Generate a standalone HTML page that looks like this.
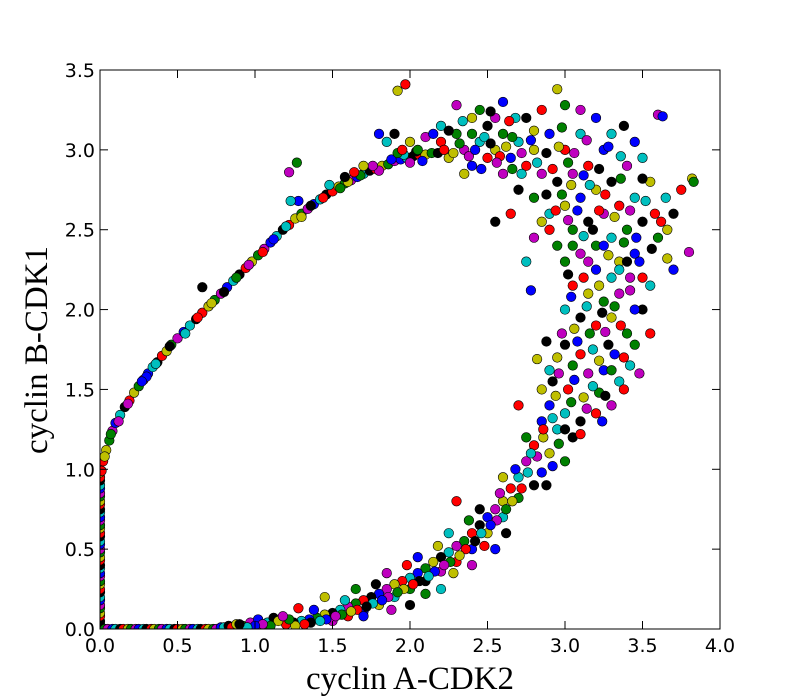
<!DOCTYPE html>
<html><head><meta charset="utf-8"><style>
html,body{margin:0;padding:0;background:#fff;}
svg{display:block;}
</style></head><body>
<svg id="chart" width="800" height="700" xmlns="http://www.w3.org/2000/svg">
<defs><clipPath id="pc"><rect x="100" y="70" width="620" height="559"/></clipPath></defs>
<rect x="0" y="0" width="800" height="700" fill="#fff"/>
<g id="pts" clip-path="url(#pc)"></g>
<rect x="100" y="70" width="620" height="559" fill="none" stroke="#000" stroke-width="1"/>
<g id="ticks"></g>
<text x="410" y="689" text-anchor="middle" font-family="Liberation Serif, serif" font-size="33">cyclin A-CDK2</text>
<text x="0" y="0" transform="translate(47,350) rotate(-90)" text-anchor="middle" font-family="Liberation Serif, serif" font-size="33">cyclin B-CDK1</text>
</svg>
<script>
const xTicks = [0,0.5,1,1.5,2,2.5,3,3.5,4];
const yTicks = [0,0.5,1,1.5,2,2.5,3,3.5];
const xTickLabels = ["0.0","0.5","1.0","1.5","2.0","2.5","3.0","3.5","4.0"];
const yTickLabels = ["0.0","0.5","1.0","1.5","2.0","2.5","3.0","3.5"];
const axisLeftBottom = [[0,0],[0,0.03],[0,0.05],[0,0.08],[0,0.1],[0,0.13],[0,0.15],[0,0.18],[0,0.2],[0,0.23],[0,0.25],[0,0.28],[0,0.3],[0,0.33],[0,0.35],[0,0.38],[0,0.4],[0,0.43],[0,0.45],[0,0.48],[0,0.5],[0,0.53],[0,0.55],[0,0.58],[0,0.6],[0,0.63],[0,0.65],[0,0.68],[0,0.7],[0,0.73],[0,0.75],[0,0.78],[0,0.8],[0,0.83],[0,0.85],[0,0.88],[0,0.9],[0,0.93],[0,0.95],[0,0.98],
[0.03,0],[0.05,0],[0.08,0],[0.1,0],[0.13,0],[0.15,0],[0.18,0],[0.2,0],[0.23,0],[0.25,0],[0.28,0],[0.3,0],[0.33,0],[0.35,0],[0.38,0],[0.4,0],[0.43,0],[0.45,0],[0.48,0],[0.5,0],[0.53,0],[0.55,0],[0.58,0],[0.6,0],[0.63,0],[0.65,0],[0.68,0],[0.7,0],[0.73,0],[0.75,0],[0.78,0.01],[0.8,0.01],[0.83,0.02],[0.85,0.01],[0.88,0.03],[0.92,0.02],[0.97,0.04],[1.02,0.06],[1.08,0.04],[1.12,0.07]];
const upperBranch = [[0.02,1.05],[0.04,1.12],[0.06,1.18],[0.08,1.24],[0.1,1.29],[0.13,1.34],[0.16,1.39],[0.19,1.43],[0.22,1.48],[0.25,1.52],[0.28,1.56],[0.31,1.6],[0.34,1.64],[0.37,1.67],[0.4,1.71],[0.43,1.74],[0.46,1.78],[0.5,1.82],[0.54,1.86],[0.58,1.9],[0.62,1.94],[0.66,1.98],[0.7,2.02],[0.74,2.06],[0.78,2.1],[0.82,2.14],[0.86,2.18],[0.9,2.22],[0.94,2.26],[0.98,2.3],[1.02,2.34],[1.06,2.38],[1.1,2.42],[1.14,2.46],[1.18,2.5],[1.22,2.53],[1.26,2.57],[1.3,2.6],[1.34,2.63],[1.38,2.66],[1.42,2.69],[1.46,2.72],[1.5,2.74],[1.54,2.77],[1.58,2.79],[1.62,2.81],[1.66,2.83],[1.7,2.85],[1.74,2.87],[1.78,2.88],[1.82,2.9],[1.86,2.91],[1.9,2.93],[1.94,2.94],[1.98,2.95],[2.02,2.96],[2.06,2.97],[2.1,2.97],[2.14,2.98],
[0.12,1.3],[0.3,1.58],[0.55,1.85],[0.8,2.11],[1.05,2.36],[1.3,2.58],[1.55,2.76],[1.8,2.87],[1.28,2.68],[1.23,2.68],[0.66,2.14],[0.01,0.99],[0.03,1.08],
[0.07,1.22],[0.18,1.41],[0.27,1.55],[0.36,1.66],[0.45,1.77],[0.63,1.95],[0.72,2.04],[0.88,2.2],[0.96,2.28],[1.12,2.44],[1.2,2.52],[1.36,2.65],[1.44,2.7],[1.6,2.8],[1.68,2.84],[1.76,2.9],[1.88,2.94],[1.96,2.97],[2.04,2.99],[1.64,2.86],[1.7,2.9],[1.92,2.98],[2.0,2.92],[2.08,2.93],[1.48,2.78],[1.58,2.83]];
const topCloud = [[2.2,3.05],[2.25,2.95],[2.3,3.1],[2.35,3.0],[2.4,2.9],[2.45,3.05],[2.5,3.15],[2.5,2.95],[2.55,3.0],[2.6,3.1],[2.6,2.85],[2.65,2.95],[2.7,3.05],[2.7,2.75],[2.75,2.9],[2.8,3.0],[2.8,2.7],[2.85,2.85],[2.9,3.1],[2.9,2.6],[2.95,2.8],[3.0,3.0],[3.0,2.65],[3.05,2.5],[3.05,2.85],[3.1,2.7],[3.1,3.1],[3.15,2.55],[3.15,2.9],[3.2,2.75],[3.2,2.4],[3.25,2.6],[3.25,3.0],[3.3,2.45],[3.3,2.8],[3.35,2.65],[3.35,2.3],[3.4,2.5],[3.4,2.9],[3.45,2.35],[3.45,2.7],[3.5,2.55],[3.5,2.2],[3.55,2.8],[3.6,2.45],[3.6,3.22],[3.63,3.21],[3.65,2.7],[3.7,2.6],[3.75,2.75],[3.82,2.82],[3.83,2.8],[3.8,2.36],[3.7,2.25],[3.55,2.15],[3.5,2.0],[3.55,1.85],[2.4,3.2],[2.45,3.25],[2.3,3.28],[2.6,3.3],[2.68,3.2],[2.75,3.2],[2.85,3.25],[2.95,3.38],[3.0,3.28],[3.1,3.25],[3.2,3.2],[3.3,3.1],[3.38,3.15],[1.97,3.41],[1.92,3.37],[1.27,2.92],[1.22,2.86],[1.8,3.1],[1.85,3.05],[1.9,3.1],[1.95,3.0],[2.0,3.05],[2.05,3.0],[2.1,3.08],[2.15,3.1],[2.2,3.15],[2.25,3.12],[2.9,2.5],[2.85,2.55],[2.95,2.4],[2.8,2.45],[2.78,2.12],[2.75,2.3],[2.55,2.55],[2.65,2.6],[2.35,2.85],[2.4,3.1],[2.55,3.2],[3.45,3.05],[3.5,2.95],
[2.18,2.98],[2.22,3.0],[2.28,2.98],[2.32,3.04],[2.38,2.96],[2.42,3.0],[2.48,3.08],[2.52,3.04],[2.58,2.96],[2.62,3.02],[2.66,3.08],[2.72,2.98],[2.78,3.06],[2.82,2.92],[2.88,2.98],[2.92,2.88],[2.96,3.02],[3.02,2.92],[3.06,2.98],[3.12,2.84],[3.16,2.78],[3.22,2.88],[3.26,2.72],[3.32,2.58],[3.36,2.82],[3.42,2.62],[3.46,2.45],[3.52,2.68],[3.56,2.38],[3.62,2.55],[3.66,2.32],[2.98,2.72],[3.02,2.56],[3.08,2.62],[3.12,2.46],[3.18,2.5],[3.22,2.62],[3.28,2.34],[3.38,2.42],[3.42,2.2],[3.48,2.3],[2.72,2.85],[2.88,2.72],[2.94,2.62],[3.04,2.78],[2.66,2.88],[2.56,2.92],[2.46,2.88],[2.34,3.18],[2.52,3.24],[2.64,3.18],[2.8,3.12],[2.98,3.14],[3.14,3.06],[3.28,3.02],[3.36,2.96],[3.5,2.82],[3.58,2.6],[3.66,2.5]];
const lowerBranch = [[3.0,2.3],[3.1,2.35],[3.2,2.25],[3.3,2.2],[3.4,2.3],[3.05,2.15],[3.15,2.1],[3.25,2.05],[3.35,2.1],[3.45,2.0],[3.0,2.0],[3.1,1.95],[3.2,1.9],[3.3,1.95],[3.4,1.85],[2.98,1.85],[3.08,1.8],[3.18,1.75],[3.28,1.78],[3.38,1.7],[2.95,1.7],[3.05,1.65],[3.15,1.6],[3.25,1.62],[3.35,1.55],[2.92,1.55],[3.02,1.5],[3.12,1.45],[3.22,1.48],[3.3,1.4],[2.9,1.4],[3.0,1.35],[3.1,1.3],[3.2,1.35],[2.82,1.69],[3.45,1.78],[3.48,1.6],[2.85,1.3],[2.95,1.25],[3.05,1.2],[2.8,1.15],[2.9,1.1],[3.0,1.05],[2.75,1.05],[2.85,0.98],[2.7,0.95],[2.8,0.9],[2.65,0.88],[2.6,0.8],[2.7,0.82],[2.55,0.75],[2.5,0.7],[2.6,0.7],[2.45,0.65],[2.4,0.6],[2.5,0.6],[2.35,0.55],[2.3,0.52],[2.4,0.5],[2.25,0.48],[2.2,0.45],[2.3,0.42],[2.15,0.42],[2.1,0.38],[2.2,0.36],[2.05,0.35],[2.0,0.32],[2.1,0.3],[1.95,0.3],[1.9,0.28],[2.0,0.25],[1.85,0.25],[1.8,0.22],[1.9,0.2],[1.75,0.2],[1.7,0.18],[1.8,0.15],[1.65,0.16],[1.6,0.14],[1.7,0.11],[1.55,0.12],[1.5,0.1],[1.6,0.08],[1.45,0.09],[1.4,0.07],[1.5,0.05],[1.35,0.06],[1.3,0.05],[1.25,0.04],[1.2,0.03],[1.15,0.05],[1.1,0.02],[1.05,0.03],[1.0,0.02],[0.95,0.01],[0.9,0.03],[1.28,0.13],[1.45,0.2],[1.65,0.25],[1.85,0.35],[2.05,0.45],[2.25,0.6],[2.45,0.75],[2.3,0.8],[2.6,0.95],[2.75,1.2],[2.4,0.4],[2.55,0.5],[2.2,0.25],[2.0,0.15],[2.7,1.4],[2.85,1.5],
[3.05,2.4],[3.15,2.3],[3.25,2.4],[3.35,2.25],[3.02,2.22],[3.12,2.2],[3.22,2.15],[3.32,2.02],[3.42,2.12],[3.04,2.08],[3.14,2.02],[3.24,1.98],[3.36,1.9],[3.06,1.88],[3.16,1.85],[3.26,1.86],[3.32,1.72],[3.42,1.65],[3.0,1.78],[3.1,1.72],[3.22,1.68],[3.3,1.62],[2.96,1.6],[3.06,1.56],[3.18,1.52],[3.26,1.46],[3.38,1.5],[2.94,1.46],[3.04,1.42],[3.14,1.38],[3.24,1.3],[2.92,1.32],[3.0,1.25],[3.1,1.22],[2.86,1.2],[2.96,1.16],[2.82,1.08],[2.92,1.02],[2.76,0.98],[2.88,0.9],[2.72,0.88],[2.66,0.8],[2.62,0.75],[2.56,0.68],[2.52,0.65],[2.46,0.6],[2.42,0.55],[2.36,0.5],[2.32,0.46],[2.26,0.42],[2.22,0.4],[2.16,0.36],[2.12,0.33],[2.06,0.3],[2.02,0.28],[1.96,0.25],[1.92,0.23],[1.86,0.2],[1.82,0.18],[1.76,0.16],[1.72,0.14],[1.66,0.12],[1.62,0.11],[1.56,0.09],[1.52,0.08],[1.46,0.06],[1.42,0.05],[1.36,0.04],[1.32,0.03],[1.26,0.02],[1.22,0.06],[1.18,0.08],[1.38,0.12],[1.58,0.18],[1.78,0.28],[1.98,0.4],[2.18,0.52],[2.38,0.68],[2.58,0.85],[2.68,1.0],[2.78,1.1],[2.62,0.6],[2.48,0.52],[2.28,0.35],[2.1,0.22],[1.88,0.12],[1.7,0.08],[2.9,1.62],[2.88,1.8],[2.86,1.25]];

const NS = "http://www.w3.org/2000/svg";
const X0 = 100, X1 = 720, Y0 = 629, Y1 = 70;
function sx(v){ return X0 + (v - 0) / (4 - 0) * (X1 - X0); }
function sy(v){ return Y0 - (v - 0) / (3.5 - 0) * (Y0 - Y1); }
const palette = ["#0000ff","#008000","#ff0000","#00bfbf","#bf00bf","#bfbf00","#000000"];

const g = document.getElementById("pts");
const all = axisLeftBottom.concat(upperBranch, topCloud, lowerBranch);
all.forEach(function(p, i){
  const c = document.createElementNS(NS, "circle");
  c.setAttribute("cx", sx(p[0]));
  c.setAttribute("cy", sy(p[1]));
  c.setAttribute("r", 4.8);
  c.setAttribute("fill", palette[(i * 3) % 7]);
  c.setAttribute("stroke", "#000");
  c.setAttribute("stroke-width", "0.6");
  
  
  g.appendChild(c);
});

const t = document.getElementById("ticks");
function line(x1,y1,x2,y2){
  const l = document.createElementNS(NS,"line");
  l.setAttribute("x1",x1);l.setAttribute("y1",y1);l.setAttribute("x2",x2);l.setAttribute("y2",y2);
  l.setAttribute("stroke","#000");l.setAttribute("stroke-width","1");
  
  
  t.appendChild(l);
}
function label(x,y,txt,anchor,name){
  const e = document.createElementNS(NS,"text");
  e.setAttribute("x",x);e.setAttribute("y",y);e.setAttribute("text-anchor",anchor);
  e.setAttribute("font-family","DejaVu Sans, Liberation Sans, sans-serif");
  e.setAttribute("font-size","19");
  e.textContent = txt;
  
  
  t.appendChild(e);
}
xTicks.forEach(function(v,i){
  const x = sx(v);
  line(x,Y0,x,Y0-8); line(x,Y1,x,Y1+8);
  label(x,Y0+23,xTickLabels[i],"middle","x-tick-label");
});
yTicks.forEach(function(v,i){
  const y = sy(v);
  line(X0,y,X0+8,y); line(X1,y,X1-8,y);
  label(X0-5,y+7,yTickLabels[i],"end","y-tick-label");
});
</script>
</body></html>
